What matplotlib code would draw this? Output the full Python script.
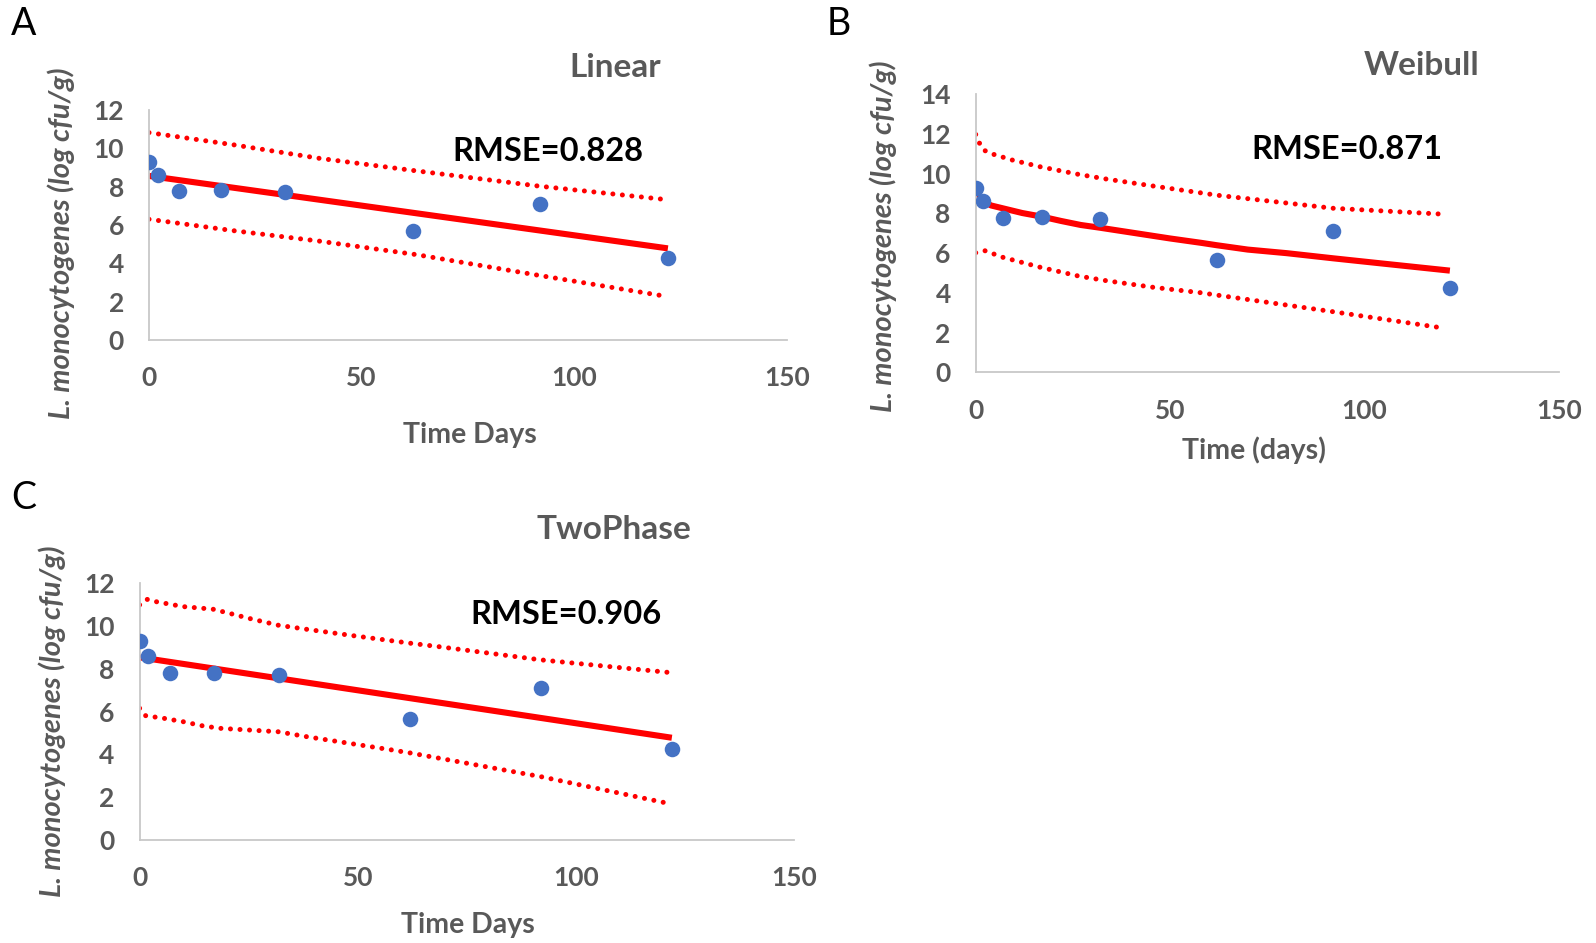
import numpy as np
from matplotlib import pyplot as plt

plt.rcParams['font.family'] = ['Lato', 'DejaVu Sans']

# observed counts (same in every panel)
days = [0, 2, 7, 17, 32, 62, 92, 122]
counts = [9.28, 8.62, 7.79, 7.82, 7.71, 5.67, 7.12, 4.27]

# A: linear model
lin_t = [0, 122]
lin_fit = [8.56, 4.78]
lin_up_t = [0, 20, 40, 63, 92, 121]
lin_up = [10.82, 10.18, 9.48, 8.82, 8.02, 7.34]
lin_lo_t = [0, 20, 40, 63, 92, 121]
lin_lo = [6.30, 5.70, 5.16, 4.45, 3.36, 2.30]

# B: Weibull model
wei_t = [0, 1, 2, 4, 8, 12, 17, 22, 27, 32, 42, 50, 58, 62, 70, 80, 92, 105, 122]
wei_fit = [8.93, 8.75, 8.59, 8.40, 8.21, 8.02, 7.84, 7.62, 7.42, 7.28, 6.98, 6.74,
           6.52, 6.40, 6.18, 6.00, 5.74, 5.47, 5.12]
wei_up_t = [0, 1, 2.4, 4.7, 9.4, 16.6, 26.4, 33.7, 45.7, 57.8, 62, 92, 120.6]
wei_up = [11.98, 11.53, 11.16, 10.97, 10.69, 10.35, 9.97, 9.73, 9.38, 9.04, 8.92, 8.26, 7.96]
wei_lo_t = [0, 2.4, 7, 16.6, 26.4, 33.7, 45.7, 57.8, 62, 92, 120.6]
wei_lo = [6.02, 6.12, 5.79, 5.29, 4.85, 4.61, 4.28, 4.01, 3.89, 3.05, 2.22]

# C: two phase model
two_t = [0, 122]
two_fit = [8.54, 4.78]
two_up_t = [0, 1.7, 3.8, 10, 16.8, 21.1, 25.3, 31.8, 38.3, 49, 62, 68.5, 92, 121]
two_up = [10.99, 11.25, 11.14, 10.91, 10.79, 10.57, 10.35, 10.04, 9.85, 9.55, 9.20, 9.04, 8.42, 7.84]
two_lo_t = [0, 1.4, 5.5, 10, 14.6, 18.5, 27.7, 31.8, 38.3, 49, 57.8, 62, 92, 121]
two_lo = [6.16, 5.81, 5.69, 5.53, 5.33, 5.22, 5.11, 5.06, 4.83, 4.49, 4.21, 4.07, 2.96, 1.72]

grey = '#595959'
blue = '#4472C4'
red = '#FF0000'
W, H = 1596, 943


def box(x0, x1, ytop, ybot):
    return [x0 / W, 1 - ybot / H, (x1 - x0) / W, (ybot - ytop) / H]


def panel(rect, ymax, fit_t, fit, up_t, up, lo_t, lo, title, title_xy, rmse, rmse_xy,
          xlabel, xlabel_xy, ylabel_xy):
    ax = fig.add_axes(rect)
    for tt, yy in [(up_t, up), (lo_t, lo)]:
        ax.plot(tt, yy, color=red, lw=3.6, linestyle=(0, (0.01, 1.9)), dash_capstyle='round')
    ax.plot(fit_t, fit, color=red, lw=4.4, solid_capstyle='butt', solid_joinstyle='round')
    ax.scatter(days, counts, s=125, color=blue, zorder=5, linewidths=0)
    ax.set_xlim(0, 150)
    ax.set_ylim(0, ymax)
    ax.set_xticks([0, 50, 100, 150])
    ax.set_yticks(np.arange(0, ymax + 1, 2))
    for s in ['top', 'right']:
        ax.spines[s].set_visible(False)
    for s in ['left', 'bottom']:
        ax.spines[s].set_color('#c8c8c8')
        ax.spines[s].set_linewidth(1.3)
    ax.tick_params(length=0, labelsize=19, labelcolor=grey)
    ax.tick_params(axis='x', pad=19)
    ax.tick_params(axis='y', pad=18)
    for lab in ax.get_xticklabels() + ax.get_yticklabels():
        lab.set_fontweight('bold')
    ax.text(*title_xy, title, transform=ax.transAxes, ha='center', va='center',
            fontsize=24, fontweight='bold', color=grey)
    ax.text(*rmse_xy, rmse, transform=ax.transAxes, ha='center', va='center',
            fontsize=23.5, fontweight='bold', color='black')
    ax.text(*xlabel_xy, xlabel, transform=ax.transAxes, ha='center', va='center',
            fontsize=20.5, fontweight='bold', color=grey)
    ax.text(*ylabel_xy, 'L. monocytogenes (log cfu/g)', transform=ax.transAxes,
            ha='center', va='center', rotation=90, fontsize=21, fontweight='bold',
            fontstyle='italic', color=grey)
    return ax


fig = plt.figure(figsize=(15.96, 9.43), dpi=100)

panel(box(149, 787, 110, 340), 12, lin_t, lin_fit, lin_up_t, lin_up, lin_lo_t, lin_lo,
      'Linear', (0.730, 1.183), 'RMSE=0.828', (0.625, 0.818),
      'Time Days', (0.503, -0.415), (-0.137, 0.42))
panel(box(975.7, 1558.7, 94.3, 372.3), 14, wei_t, wei_fit, wei_up_t, wei_up, wei_lo_t, wei_lo,
      'Weibull', (0.765, 1.103), 'RMSE=0.871', (0.637, 0.80),
      'Time (days)', (0.477, -0.28), (-0.158, 0.49))
panel(box(139.6, 794, 583.3, 840), 12, two_t, two_fit, two_up_t, two_up, two_lo_t, two_lo,
      'TwoPhase', (0.725, 1.208), 'RMSE=0.906', (0.652, 0.88),
      'Time Days', (0.502, -0.33), (-0.133, 0.462))

fig.text(24 / W, 1 - 24 / H, 'A', fontsize=27, ha='center', va='center')
fig.text(839 / W, 1 - 24 / H, 'B', fontsize=27, ha='center', va='center')
fig.text(24 / W, 1 - 498 / H, 'C', fontsize=27, ha='center', va='center')

fig.savefig('out.png', dpi=100)
